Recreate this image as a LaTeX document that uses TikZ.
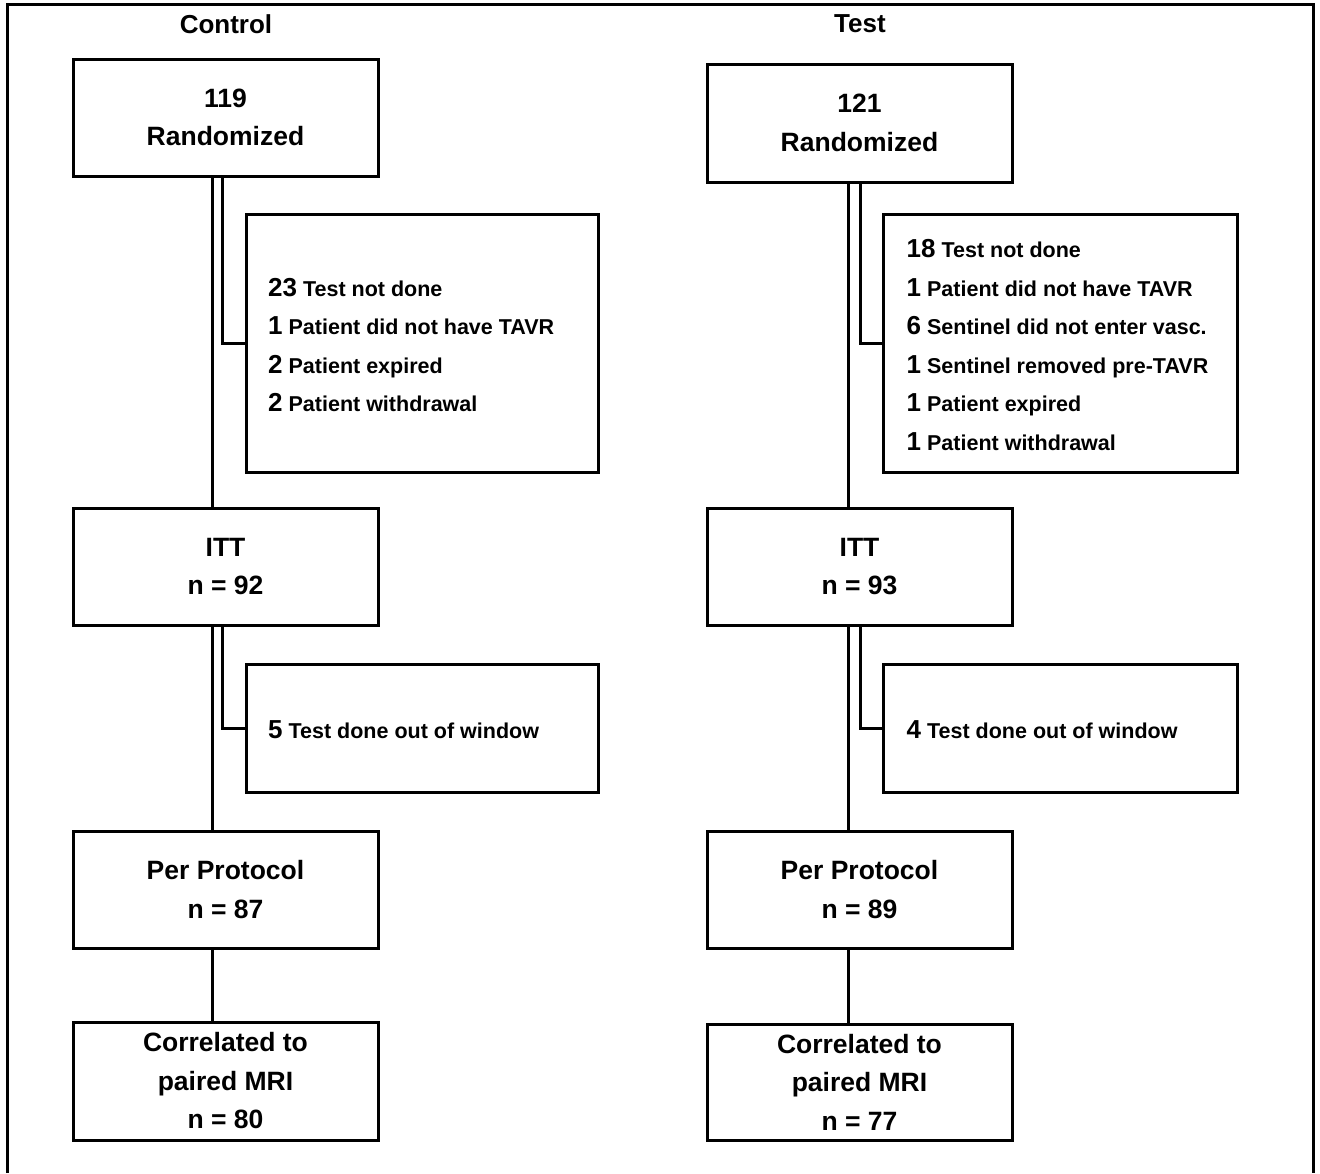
\documentclass[tikz,border=0pt]{standalone}
\usepackage{fontspec}
\setmainfont{Liberation Sans}
\usetikzlibrary{positioning}

\tikzset{
  flowbox/.style={draw, line width=3pt, minimum width=305pt, minimum height=117pt, inner sep=0pt,
    align=center, font=\fontsize{26.5}{38.5}\selectfont\bfseries},
  exclbox/.style={draw, line width=3pt, minimum width=352pt, inner sep=0pt},
  excltext/.style={anchor=west, align=left, inner sep=0pt, font=\fontsize{21.5}{38.5}\selectfont\bfseries},
  armlabel/.style={font=\fontsize{26}{30}\selectfont\bfseries},
  link/.style={line width=3pt}
}
\newcommand{\cnt}[1]{{\fontsize{26}{38.5}\selectfont #1}}

\begin{document}
\begin{tikzpicture}[x=1pt,y=-1pt]
  \useasboundingbox (0,0) rectangle (1320,1173);
  \draw[line width=3pt] (7,1173) -- (7,4) -- (1313,4) -- (1313,1173);

  % control arm
  \node[armlabel] (ctl) at (226,24) {Control};
  \node[flowbox] (c1) at (225.5,117.5) {119\\Randomized};
  \node[exclbox, minimum height=258pt] (cx1) at (422.5,343) {};
  \node[excltext] (cx1t) at ([xshift=23pt,yshift=-2pt]cx1.west) {\cnt{23} Test not done\\\cnt{1} Patient did not have TAVR\\\cnt{2} Patient expired\\\cnt{2} Patient withdrawal};
  \node[flowbox] (c2) at (225.5,566.5) {ITT\\n = 92};
  \node[exclbox, minimum height=128pt] (cx2) at (422.5,728) {};
  \node[excltext] (cx2t) at ([xshift=23pt,yshift=-2pt]cx2.west) {\cnt{5} Test done out of window};
  \node[flowbox] (c3) at (225.5,889.5) {Per Protocol\\n = 87};
  \node[flowbox, minimum height=118pt] (c4) at (225.5,1081) {Correlated to\\paired MRI\\n = 80};

  \coordinate (cmain) at (212,0);
  \coordinate (cside) at (222.5,0);
  \draw[link] (c1.south -| cmain) -- (c2.north -| cmain);
  \draw[link] (c2.south -| cmain) -- (c3.north -| cmain);
  \draw[link] (c3.south -| cmain) -- (c4.north -| cmain);
  \draw[link] (c1.south -| cside) |- (cx1.west);
  \draw[link] (c2.south -| cside) |- (cx2.west);

  % test arm
  \node[armlabel] (tst) at (860,24) {Test};
  \node[flowbox, minimum height=118pt] (t1) at (859.5,123) {121\\Randomized};
  \node[exclbox, minimum width=354pt, minimum height=258pt] (tx1) at (1060,343) {};
  \node[excltext] (tx1t) at ([xshift=25pt,yshift=-2pt]tx1.west) {\cnt{18} Test not done\\\cnt{1} Patient did not have TAVR\\\cnt{6} Sentinel did not enter vasc.\\\cnt{1} Sentinel removed pre-TAVR\\\cnt{1} Patient expired\\\cnt{1} Patient withdrawal};
  \node[flowbox] (t2) at (859.5,566.5) {ITT\\n = 93};
  \node[exclbox, minimum width=354pt, minimum height=128pt] (tx2) at (1060,728) {};
  \node[excltext] (tx2t) at ([xshift=25pt,yshift=-2pt]tx2.west) {\cnt{4} Test done out of window};
  \node[flowbox] (t3) at (859.5,889.5) {Per Protocol\\n = 89};
  \node[flowbox, minimum height=116pt] (t4) at (859.5,1082) {Correlated to\\paired MRI\\n = 77};

  \coordinate (tmain) at (848,0);
  \coordinate (tside) at (860,0);
  \draw[link] (t1.south -| tmain) -- (t2.north -| tmain);
  \draw[link] (t2.south -| tmain) -- (t3.north -| tmain);
  \draw[link] (t3.south -| tmain) -- (t4.north -| tmain);
  \draw[link] (t1.south -| tside) |- (tx1.west);
  \draw[link] (t2.south -| tside) |- (tx2.west);
\end{tikzpicture}
\end{document}
